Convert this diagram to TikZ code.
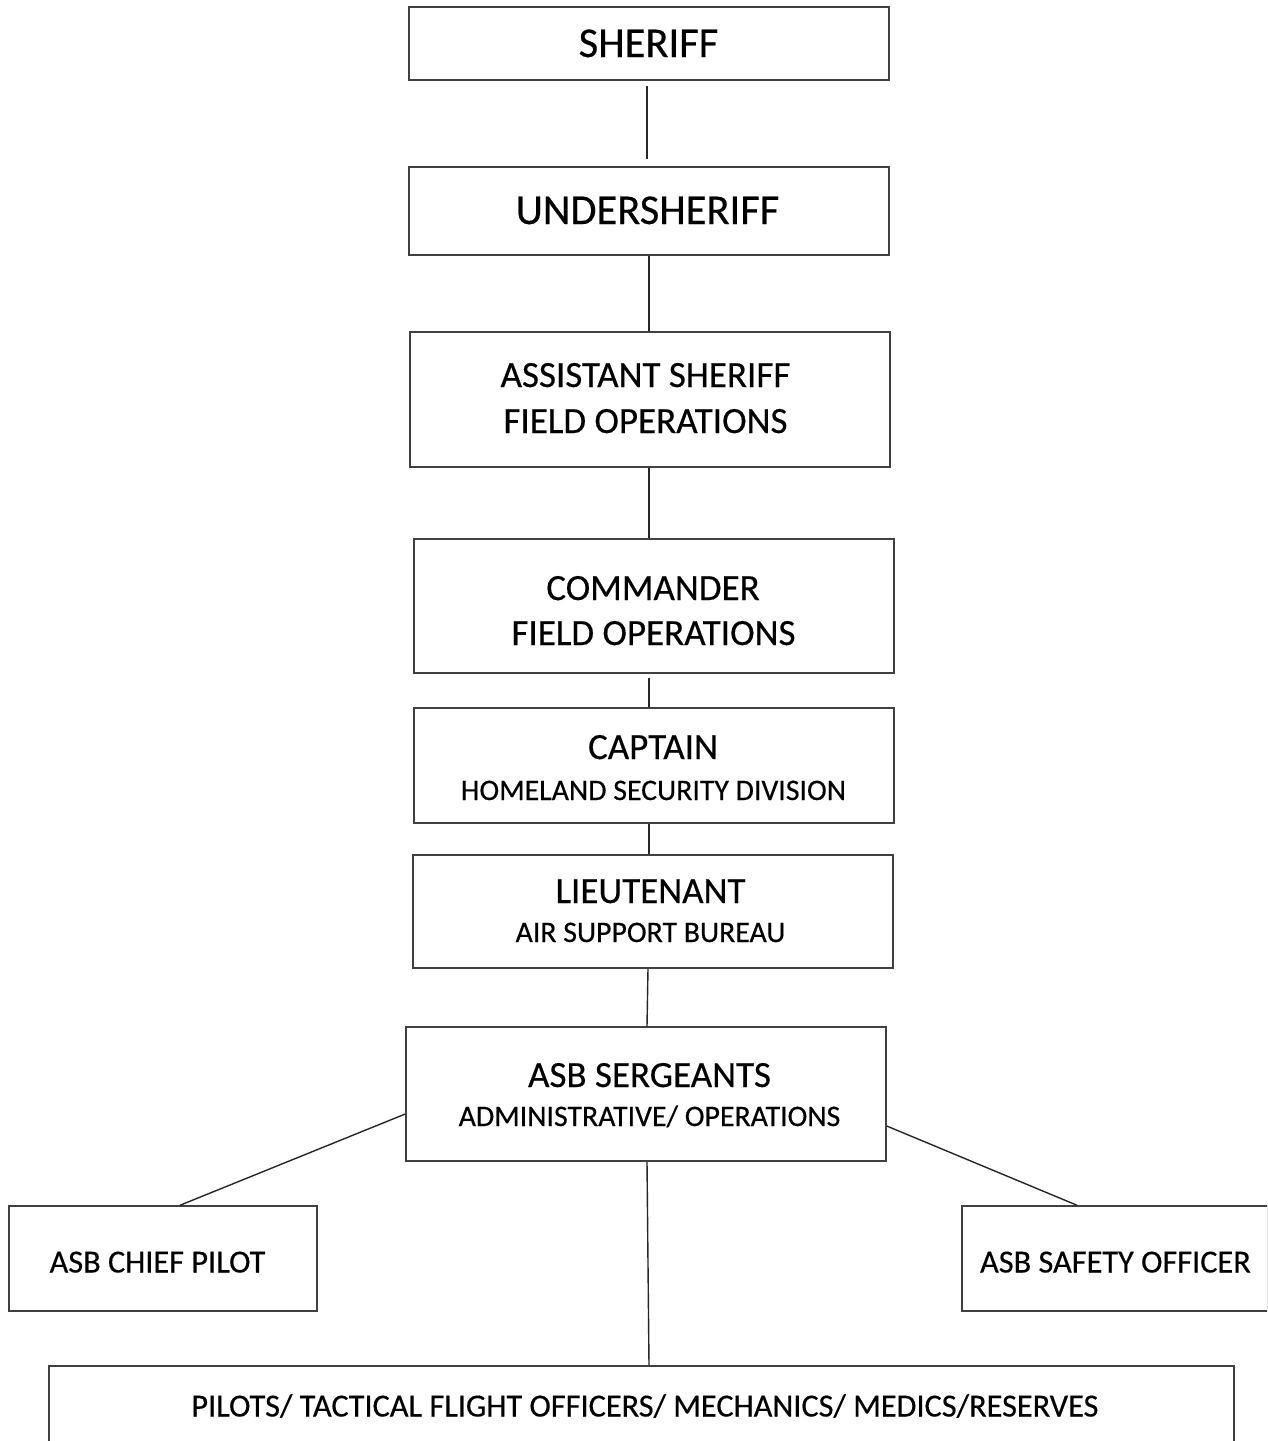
\documentclass[tikz,border=0pt]{standalone}
\usepackage{fontspec}
\setmainfont[FakeBold=0.4]{Carlito}
\usetikzlibrary{calc}
\begin{document}
\begin{tikzpicture}[x=1pt,y=-1pt,
  box/.style={draw=black!75,line width=1.5pt,rectangle,inner sep=0pt},
  txt/.style={inner sep=0pt,text=black},
  link/.style={draw=black!85,line width=1.4pt},
  big/.style={font=\fontsize{42.5}{46}\selectfont},
  mid/.style={font=\fontsize{37}{46}\selectfont},
  sub/.style={font=\fontsize{29.8}{36}\selectfont},
  small/.style={font=\fontsize{32.3}{40}\selectfont}]
\clip (0,0) rectangle (1267,1441);
\fill[white] (0,0) rectangle (1267,1441);
% boxes
\node[box,minimum width=480pt,minimum height=73pt] (sheriff) at (649,43.5) {};
\node[box,minimum width=480pt,minimum height=88pt] (under) at (649,211) {};
\node[box,minimum width=480pt,minimum height=135pt] (asst) at (650,399.5) {};
\node[box,minimum width=480pt,minimum height=134pt] (cmdr) at (654,606) {};
\node[box,minimum width=480pt,minimum height=115pt] (capt) at (654,765.5) {};
\node[box,minimum width=480pt,minimum height=113pt] (lt) at (653,911.5) {};
\node[box,minimum width=480pt,minimum height=134pt] (sgt) at (646,1094) {};
\node[box,minimum width=308pt,minimum height=105pt] (chief) at (163,1258.5) {};
\node[box,minimum width=306pt,minimum height=105pt] (safety) at (1115,1258.5) {};
\node[box,minimum width=1185pt,minimum height=80pt] (bottom) at (641.5,1406) {};
% texts (anchor at baseline)
\node[txt,big,anchor=base] (sheriffT) at (648.5,57) {SHERIFF};
\node[txt,big,anchor=base] (underT) at (647.5,224) {UNDERSHERIFF};
\node[txt,mid,anchor=base] (asstA) at (645.5,387) {ASSISTANT SHERIFF};
\node[txt,mid,anchor=base] (asstB) at (645.5,433) {FIELD OPERATIONS};
\node[txt,mid,anchor=base] (cmdrA) at (653,600) {COMMANDER};
\node[txt,mid,anchor=base] (cmdrB) at (653.5,645) {FIELD OPERATIONS};
\node[txt,mid,anchor=base] (captA) at (653,759) {CAPTAIN};
\node[txt,sub,anchor=base] (captB) at (653.5,800) {HOMELAND SECURITY DIVISION};
\node[txt,mid,anchor=base] (ltA) at (650.5,903) {LIEUTENANT};
\node[txt,sub,anchor=base] (ltB) at (650.5,942) {AIR SUPPORT BUREAU};
\node[txt,mid,anchor=base] (sgtA) at (649.5,1087) {ASB SERGEANTS};
\node[txt,sub,anchor=base] (sgtB) at (649.5,1126) {ADMINISTRATIVE/ OPERATIONS};
\node[txt,small,anchor=base] (chiefT) at (157.5,1272.5) {ASB CHIEF PILOT};
\node[txt,small,anchor=base] (safetyT) at (1115.5,1272.5) {ASB SAFETY OFFICER};
\node[txt,small,anchor=base] (bottomT) at (645,1416.5) {PILOTS/ TACTICAL FLIGHT OFFICERS/ MECHANICS/ MEDICS/RESERVES};
% connectors
\draw[link] ($(sheriff.south)+(-2,5)$) -- ($(under.north)+(-2,-7)$);
\draw[link] (under.south) -- (asst.north -| under.south);
\draw[link] ($(asst.south)+(-1,0)$) -- ($(cmdr.north)+(-5,0)$);
\draw[link] ($(cmdr.south)+(-5,4)$) -- ($(capt.north)+(-5,0)$);
\draw[link] ($(capt.south)+(-5,0)$) -- ($(lt.north)+(-4,0)$);
\draw[link] ($(lt.south)+(-5,0)$) -- ($(sgt.north)+(1,0)$);
\draw[link] ($(sgt.west)+(0,20)$) -- ($(chief.north)+(17,0)$);
\draw[link] ($(sgt.east)+(0,32)$) -- ($(safety.north)+(-38,0)$);
\draw[link] ($(sgt.south)+(1,0)$) -- ($(bottom.north)+(7.5,0)$);
\end{tikzpicture}
\end{document}
